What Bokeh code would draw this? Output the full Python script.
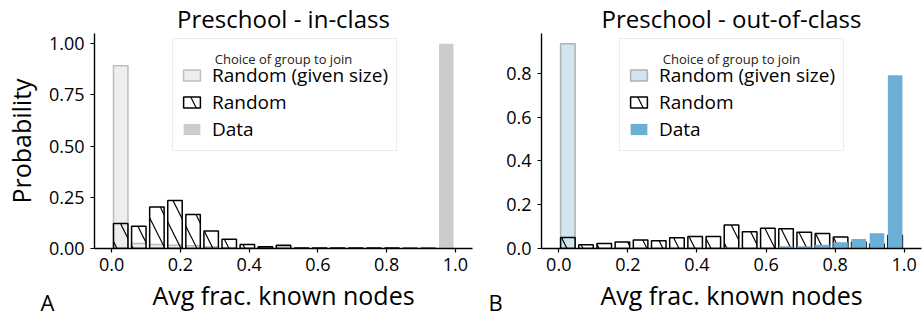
import numpy as np
from bokeh.plotting import figure
from bokeh.layouts import row
from bokeh.models import (Legend, LegendItem, Title, Label, FixedTicker,
                          NumeralTickFormatter, Range1d, ColumnDataSource)
from bokeh.embed import file_html
from bokeh.resources import INLINE

FONT = "Open Sans"

# 19 equal-width bins on [0, 1]
bin_edges = np.linspace(0.0, 1.0, 20)
bin_centers = (bin_edges[:-1] + bin_edges[1:]) / 2
bar_width = 0.8 * (bin_edges[1] - bin_edges[0])

# Preschool - in-class
inclass_given_size = [0.892, 0.024, 0.020, 0.016, 0.013, 0.008, 0.004, 0.002, 0.001, 0.010,
                      0.0, 0.0, 0.0, 0.0, 0.0, 0.0, 0.0, 0.0, 0.0]
inclass_random = [0.122, 0.109, 0.203, 0.235, 0.166, 0.085, 0.045, 0.019, 0.009, 0.016,
                  0.003, 0.002, 0.002, 0.002, 0.002, 0.002, 0.001, 0.001, 0.0]
inclass_data = [0.0, 0.0, 0.0, 0.0, 0.0, 0.0, 0.0, 0.0, 0.0, 0.0,
                0.0, 0.0, 0.0, 0.0, 0.0, 0.0, 0.0, 0.0, 1.0]

# Preschool - out-of-class
outclass_given_size = [0.936, 0.0, 0.0, 0.0, 0.0, 0.0, 0.0, 0.0, 0.0, 0.0,
                       0.0, 0.0, 0.0, 0.0, 0.0, 0.0, 0.0, 0.0, 0.0]
outclass_random = [0.050, 0.017, 0.023, 0.030, 0.039, 0.035, 0.049, 0.055, 0.055, 0.107,
                   0.076, 0.092, 0.090, 0.074, 0.069, 0.053, 0.030, 0.020, 0.061]
outclass_data = [0.0, 0.0, 0.0, 0.0, 0.0, 0.0, 0.0, 0.0, 0.0, 0.003,
                 0.0, 0.0, 0.010, 0.010, 0.017, 0.029, 0.043, 0.070, 0.792]

x_ticks = [0.0, 0.2, 0.4, 0.6, 0.8, 1.0]
inclass_y_ticks = [0.0, 0.25, 0.5, 0.75, 1.0]
outclass_y_ticks = [0.0, 0.2, 0.4, 0.6, 0.8]

LEGEND_TITLE = "Choice of group to join"
FRAME_HEIGHT = 215  # pixels between the top and bottom borders


def make_panel(title, given, rand, data, given_fill, given_edge, data_fill,
               y_ticks, y_fmt, y_label, width, border_left, border_right, letter,
               letter_offset):
    y_max = max(max(given), max(rand), max(data)) * 1.05
    p = figure(width=width, height=320, output_backend="svg", toolbar_location=None,
               x_range=Range1d(-0.05, 1.05), y_range=Range1d(0, y_max),
               min_border_left=border_left, min_border_right=border_right,
               min_border_top=33, min_border_bottom=72)
    p.title.text = title
    p.title.align = "center"
    p.title.text_font = FONT
    p.title.text_font_size = "24px"
    p.title.text_font_style = "normal"
    p.title.text_color = "black"
    p.title.standoff = -2
    p.outline_line_color = None
    p.xgrid.visible = False
    p.ygrid.visible = False
    p.background_fill_color = "white"
    p.border_fill_color = "white"

    src = ColumnDataSource(dict(x=bin_centers, given=given, rand=rand, data=data))
    r_given = p.vbar(x="x", top="given", width=bar_width, source=src,
                     fill_color=given_fill, line_color=given_edge, line_width=1.5)
    r_rand = p.vbar(x="x", top="rand", width=bar_width, source=src,
                    fill_color=None, line_color="black", line_width=1.5,
                    hatch_pattern="left_diagonal_line", hatch_color="black",
                    hatch_scale=32, hatch_weight=1.2)
    r_data = p.vbar(x="x", top="data", width=bar_width, source=src,
                    fill_color=data_fill, line_color=None)

    for ax in (p.xaxis[0], p.yaxis[0]):
        ax.axis_line_width = 1.4
        ax.axis_line_color = "black"
        ax.major_tick_line_width = 1.2
        ax.major_tick_in = 0
        ax.major_tick_out = 4
        ax.minor_tick_line_color = None
        ax.major_label_text_font = FONT
        ax.major_label_text_font_size = "18px"
        ax.major_label_text_color = "black"
        ax.axis_label_text_font = FONT
        ax.axis_label_text_font_size = "25px"
        ax.axis_label_text_font_style = "normal"
        ax.axis_label_text_color = "black"

    p.xaxis.ticker = FixedTicker(ticks=x_ticks)
    p.xaxis.formatter = NumeralTickFormatter(format="0.0")
    p.xaxis.axis_label = "Avg frac. known nodes"
    p.xaxis.major_label_standoff = 5
    p.xaxis.axis_label_standoff = 4
    p.yaxis.ticker = FixedTicker(ticks=y_ticks)
    p.yaxis.formatter = NumeralTickFormatter(format=y_fmt)
    p.yaxis.major_label_standoff = 6
    if y_label:
        p.yaxis.axis_label = y_label
        p.yaxis.axis_label_standoff = 8

    # legend box keeps a one-line title slot; the title text is centred over it below
    legend = Legend(
        items=[LegendItem(label="Random (given size)", renderers=[r_given]),
               LegendItem(label="Random", renderers=[r_rand]),
               LegendItem(label="Data", renderers=[r_data])],
        location=(78, 97),
        title=" ",
        title_text_font=FONT, title_text_font_size="11px",
        title_text_font_style="normal", title_standoff=0,
        label_text_font=FONT, label_text_font_size="19px", label_text_color="black",
        glyph_width=21, glyph_height=14, label_height=18,
        label_standoff=10, spacing=1, padding=8, margin=0,
        border_line_color="#d9d9d9", border_line_width=1,
        background_fill_color="white", background_fill_alpha=0.0,
    )
    p.add_layout(legend)
    p.add_layout(Label(x=0.5, y=y_max * (248 - 58) / FRAME_HEIGHT, text=LEGEND_TITLE,
                       text_align="center", text_baseline="middle",
                       text_font=FONT, text_font_size="13px", text_font_style="normal",
                       text_color="#222222"))

    # panel letter, set below the x axis and pulled to the left of the frame
    p.add_layout(Title(text=letter, align="left", vertical_align="top",
                       offset=letter_offset, standoff=-56,
                       text_font=FONT, text_font_size="22px", text_font_style="normal",
                       text_color="black"), "below")
    return p


left = make_panel("Preschool - in-class", inclass_given_size, inclass_random, inclass_data,
                  "#eeeeee", "#bdbdbd", "#cccccc", inclass_y_ticks, "0.00", "Probability",
                  482, 92, 10, "A", -54)
right = make_panel("Preschool - out-of-class", outclass_given_size, outclass_random,
                   outclass_data, "#d1e5f0", "#b0b0b0", "#6baed6", outclass_y_ticks, "0.0",
                   None, 440, 59, 1, "B", -53)

layout = row(left, right)
open("out.html", "w").write(file_html(layout, INLINE))
